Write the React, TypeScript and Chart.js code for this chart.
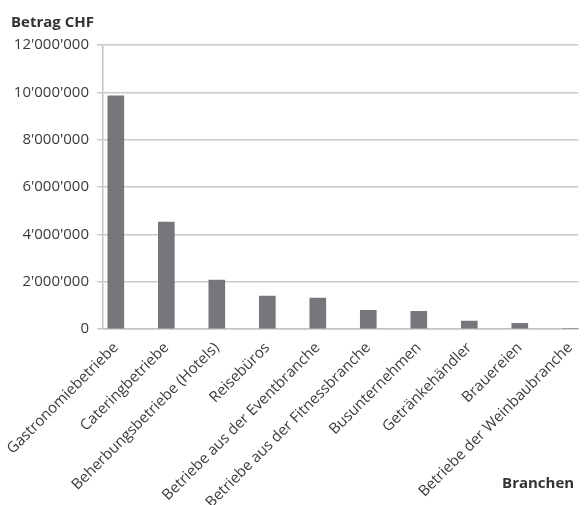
import React, { useEffect, useRef } from "react";
import { Chart, registerables } from "chart.js";

Chart.register(...registerables);

const categories = [
  "Gastronomiebetriebe",
  "Cateringbetriebe",
  "Beherbungsbetriebe (Hotels)",
  "Reisebüros",
  "Betriebe aus der Eventbranche",
  "Betriebe aus der Fitnessbranche",
  "Busunternehmen",
  "Getränkehändler",
  "Brauereien",
  "Betriebe der Weinbaubranche",
];
const values = [9850000, 4520000, 2070000, 1395000, 1310000, 790000, 750000, 330000, 240000, 30000];
const yTitle = "Betrag CHF";
const xTitle = "Branchen";
const yMax = 12000000;
const yStep = 2000000;

const FONT = '"Open Sans", "Noto Sans", sans-serif';

function fmt(v: number): string {
  return String(Math.round(v)).replace(/\B(?=(\d{3})+(?!\d))/g, "'");
}

export default function App() {
  const ref = useRef<HTMLCanvasElement | null>(null);
  useEffect(() => {
    document.body.style.margin = "0";
    const canvas = ref.current;
    if (!canvas) return;
    const xTitlePlugin = {
      id: "xTitlePlugin",
      afterDraw(chart: any) {
        const ctx = chart.ctx;
        ctx.save();
        ctx.font = `bold 15px ${FONT}`;
        ctx.fillStyle = "#333333";
        ctx.textAlign = "right";
        ctx.textBaseline = "alphabetic";
        ctx.fillText(xTitle, chart.chartArea.right - 4, chart.chartArea.bottom + 159);
        ctx.restore();
      },
    };
    const chart = new Chart(canvas, {
      type: "bar",
      data: {
        datasets: [
          {
            data: values.map((v, i) => ({ x: i, y: v })),
            backgroundColor: "#76777a",
            barThickness: 16,
          },
        ],
      },
      options: {
        animation: false,
        responsive: true,
        maintainAspectRatio: false,
        layout: { padding: { left: 11, top: 8, right: 0, bottom: 0 } },
        plugins: {
          legend: { display: false },
          tooltip: { enabled: false },
          title: {
            display: true,
            text: yTitle,
            align: "start",
            color: "#333333",
            font: { family: FONT, size: 15, weight: "bold" },
            padding: { top: 6, bottom: 13 },
          },
        },
        scales: {
          x: {
            type: "linear",
            offset: false,
            min: -0.254,
            max: 9.156,
            grid: { display: false },
            border: { display: true, color: "#c4c4c4", width: 1.5 },
            ticks: {
              stepSize: 1,
              includeBounds: false,
              autoSkip: false,
              maxRotation: 45,
              minRotation: 45,
              color: "#3a3a3a",
              font: { family: FONT, size: 15 },
              padding: 2,
              callback: (v: any) => {
                const n = Number(v);
                return Number.isInteger(n) && categories[n] !== undefined ? categories[n] : "";
              },
            },
            afterFit: (scale: any) => {
              scale.height = 176;
            },
          },
          y: {
            min: 0,
            max: yMax,
            grid: { color: "#cacaca", lineWidth: 1.5, tickLength: 6 },
            border: { display: true, color: "#c4c4c4", width: 1.5 },
            ticks: {
              stepSize: yStep,
              color: "#3a3a3a",
              font: { family: FONT, size: 15 },
              padding: 8,
              callback: (v: any) => fmt(Number(v)),
            },
            afterFit: (scale: any) => {
              scale.width = 92;
            },
          },
        },
      },
      plugins: [xTitlePlugin],
    } as any);
    return () => chart.destroy();
  }, []);
  return (
    <div style={{ position: "relative", width: 585, height: 505 }}>
      <canvas ref={ref} />
    </div>
  );
}
